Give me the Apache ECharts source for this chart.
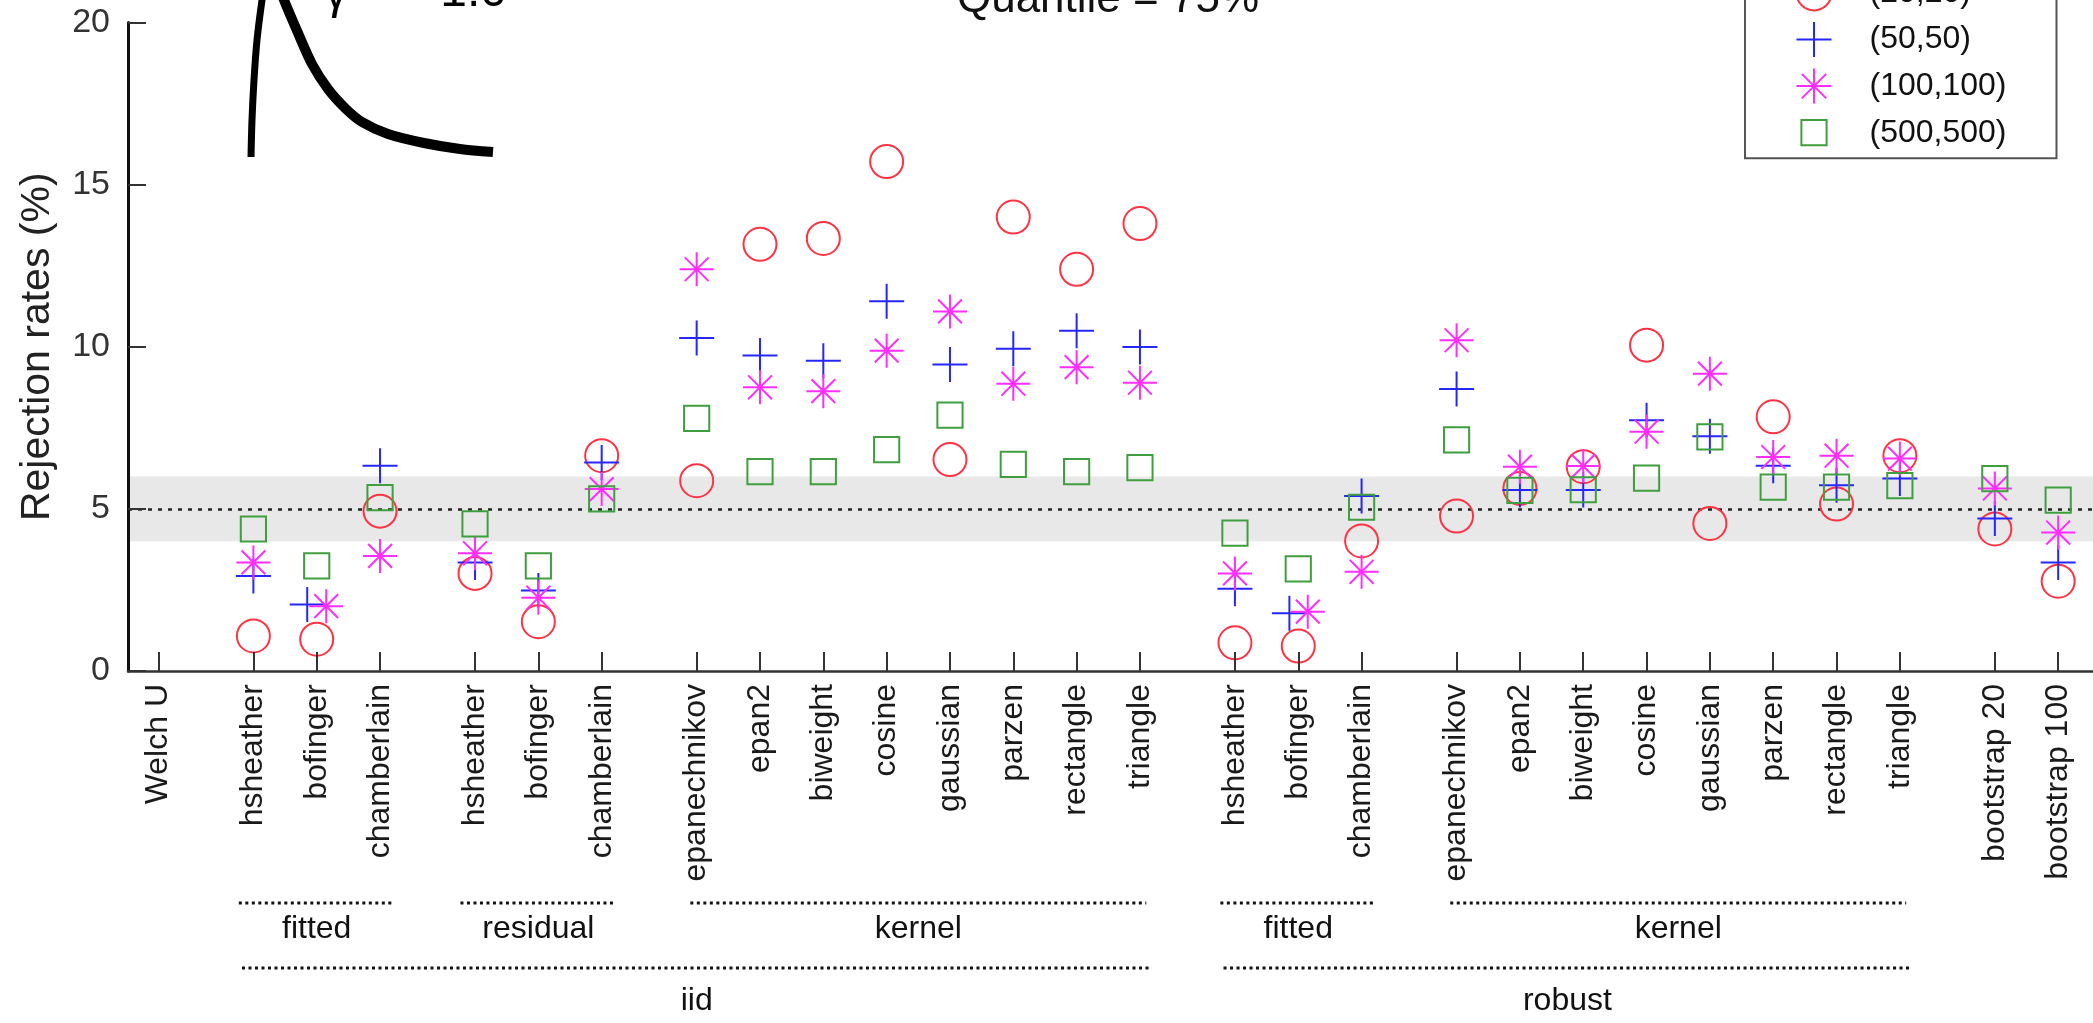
<!DOCTYPE html>
<html><head><meta charset="utf-8">
<script src="https://cdn.jsdelivr.net/npm/echarts@6/dist/echarts.min.js"></script>
<style>html,body{margin:0;padding:0;background:#fff}#c{width:2093px;height:1023px}</style>
</head><body><div id="c"></div>
<script>
// ---------------- data ----------------
const categories = ['Welch U',
  'hsheather','bofinger','chamberlain',
  'hsheather','bofinger','chamberlain',
  'epanechnikov','epan2','biweight','cosine','gaussian','parzen','rectangle','triangle',
  'hsheather','bofinger','chamberlain',
  'epanechnikov','epan2','biweight','cosine','gaussian','parzen','rectangle','triangle',
  'bootstrap 20','bootstrap 100'];
const positions = [1, 2.5,3.5,4.5, 6,7,8, 9.5,10.5,11.5,12.5,13.5,14.5,15.5,16.5,
  18,19,20, 21.5,22.5,23.5,24.5,25.5,26.5,27.5,28.5, 30,31];
const seriesNames = ['(20,20)','(50,50)','(100,100)','(500,500)'];
const rate20  = [null,1.08,0.98,4.93, 3.01,1.52,6.64, 5.87,13.16,13.34,15.71,6.52,14.00,12.39,13.80, 0.87,0.77,4.01, 4.78,5.63,6.30,10.05,4.55,7.84,5.15,6.64, 4.38,2.77];
const rate50  = [null,2.93,2.05,6.33, 3.35,2.48,6.43, 10.27,9.73,9.57,11.40,9.45,9.94,10.49,9.99, 2.54,1.78,5.40, 8.70,5.58,5.58,7.73,7.24,6.33,5.73,5.94, 4.70,3.35];
const rate100 = [null,3.35,2.00,3.55, 3.63,2.26,5.61, 12.39,8.75,8.63,9.88,11.09,8.86,9.37,8.89, 3.01,1.83,3.06, 10.20,6.30,6.32,7.38,9.17,6.60,6.64,6.55, 5.63,4.27];
const rate500 = [null,4.38,3.24,5.35, 4.54,3.24,5.31, 7.79,6.15,6.15,6.83,7.89,6.37,6.15,6.27, 4.25,3.15,5.05, 7.13,5.57,5.59,5.95,7.22,5.67,5.67,5.72, 5.93,5.27];
// small horizontal dodge used in the original for overlapping marks (category index -> shift)
const dodge50  = {2:-0.15, 16:-0.14};
const dodge100 = {2: 0.15, 16: 0.15};
const yTicks = [0,5,10,15,20];
const nominalLevel = 5;
const toleranceBand = [4,6];
const groupsLevel1 = [
  {label:'fitted', from:1, to:3}, {label:'residual', from:4, to:6}, {label:'kernel', from:7, to:14},
  {label:'fitted', from:15, to:17}, {label:'kernel', from:18, to:25}];
const groupsLevel2 = [{label:'iid', from:1, to:14}, {label:'robust', from:15, to:25}];
const titleText = 'Quantile = 75%';
const insetSymbol = 'γ';
const insetValue = '= 1.0';
const yName = 'Rejection rates (%)';

// ---------------- styling ----------------
const FONT = "'Liberation Sans', Arial, Helvetica, sans-serif";
const COLORS = ['#ff3344', '#2626ff', '#ff2eff', '#3f9f3f'];
const PLUS = 'path://M0,-1L0,1M-1,0L1,0';
const STAR = 'path://M0,-1L0,1M-1,0L1,0M-0.7,-0.7L0.7,0.7M-0.7,0.7L0.7,-0.7';
const SQUARE = 'path://M-0.36,-0.36L0.36,-0.36L0.36,0.36L-0.36,0.36Z M-0.5,-0.5 M0.5,0.5';
const SYMBOLS = ['circle', PLUS, STAR, SQUARE];
const SIZES = [33, 35, 34, 35];

function build(values, dodge) {
  const out = [];
  values.forEach((v, i) => {
    if (v === null) return;
    out.push([positions[i] + ((dodge && dodge[i]) || 0), v]);
  });
  return out;
}
const allValues = [rate20, rate50, rate100, rate500];
const dodges = [null, dodge50, dodge100, null];

const chart = echarts.init(document.getElementById('c'), null, {renderer:'canvas'});

const series = seriesNames.map((name, k) => ({
  name, type:'scatter', silent:true, z: 2,
  symbol: SYMBOLS[k], symbolSize: SIZES[k],
  itemStyle:{color:'transparent', borderColor: COLORS[k], borderWidth: 2, opacity: 1},
  emphasis:{disabled:true},
  data: build(allValues[k], dodges[k])
}));
series[0].markArea = {silent:true, z:1, itemStyle:{color:'#e8e8e8'},
  data:[[{yAxis: toleranceBand[0]}, {yAxis: toleranceBand[1]}]]};
series[0].markLine = {silent:true, z:1, symbol:['none','none'], label:{show:false},
  lineStyle:{color:'#222', width:2.5, type:[4,6]}, data:[{yAxis: nominalLevel}]};

const option = {
  animation:false,
  backgroundColor:'#fff',
  textStyle:{fontFamily: FONT},
  title:{text: titleText, left: 1108, textAlign:'center', top:-22, padding:0,
    textStyle:{fontSize:44, fontWeight:'normal', color:'#111', fontFamily: FONT}},
  legend:{
    orient:'vertical', left:1745, top:-35.6, padding:[10,50,7,50.5],
    itemWidth:101, itemHeight:35, itemGap:9.6, selectedMode:false,
    borderColor:'#555', borderWidth:2, backgroundColor:'#fff',
    textStyle:{fontSize:32, color:'#111', fontFamily: FONT},
    data: seriesNames.map((n,k)=>({name:n, icon: SYMBOLS[k],
      itemStyle:{color:'transparent', borderColor: COLORS[k], borderWidth:2}}))
  },
  grid:{left:128, right:0, top:22.5, bottom:352, containLabel:false},
  xAxis:{
    type:'value', min:0.52, max:31.55, z:3,
    splitLine:{show:false},
    axisLine:{show:true, onZero:false, lineStyle:{color:'#333', width:2.5}},
    axisTick:{show:true, inside:true, length:19, customValues: positions, lineStyle:{color:'#333', width:2}},
    axisLabel:{show:true, customValues: positions, rotate:90, margin:13, fontSize:32, color:'#1a1a1a', fontFamily: FONT,
      formatter: v => { const i = positions.findIndex(p => Math.abs(p - v) < 1e-6); return i >= 0 ? categories[i] : ''; }}
  },
  yAxis:{
    type:'value', min:0, max:20, interval:5, z:3,
    splitLine:{show:false},
    name: yName, nameLocation:'middle', nameGap:70,
    nameTextStyle:{fontSize:41, color:'#222', fontFamily: FONT},
    axisLine:{show:true, lineStyle:{color:'#111', width:3}},
    axisTick:{show:true, inside:true, length:18, lineStyle:{color:'#333', width:2}},
    axisLabel:{fontSize:34, margin:18, color:'#333', fontFamily: FONT,
      formatter: v => yTicks.includes(v) ? String(v) : ''}
  },
  series
};
chart.setOption(option);

// ---------------- annotations (group brackets, inset curve) ----------------
const px = v => chart.convertToPixel({xAxisIndex:0}, v);
const elements = [];
function addGroups(groups, lineY, textY, padFor) {
  groups.forEach(g => {
    const pad = padFor(g);
    const x1 = px(positions[g.from] - pad), x2 = px(positions[g.to] + pad);
    elements.push({type:'line', silent:true, shape:{x1, y1:lineY, x2, y2:lineY},
      style:{stroke:'#111', lineWidth:3, lineDash:[3,3.5]}});
    elements.push({type:'text', silent:true, x:(px(positions[g.from]) + px(positions[g.to]))/2, y:textY,
      style:{text:g.label, font:'32px ' + FONT, fill:'#111', align:'center', verticalAlign:'middle'}});
  });
}
addGroups(groupsLevel1, 903, 929, g => (g.to - g.from) <= 2 ? 0.23 : 0.1);
addGroups(groupsLevel2, 968, 1001, g => 0.18);

// inset distribution sketch (decorative, partly cut off at the top)
elements.push({type:'polyline', silent:true,
  shape:{points:[[251,157],[252,120],[254,80],[257,40],[262,0],[266,-25],[272,-36]], smooth:0.3},
  style:{stroke:'#000', lineWidth:7, fill:null, lineCap:'butt'}});
elements.push({type:'polyline', silent:true,
  shape:{points:[[272,-36],[278,-18],[284,0],[298,33],[312,64],[328,89],[346,109],[362,122],[388,134],[424,143],[460,149],[493,152]], smooth:0.3},
  style:{stroke:'#000', lineWidth:10, fill:null, lineCap:'butt'}});
elements.push({type:'text', silent:true, x:336, y:-5,
  style:{text: insetSymbol, font:'48px ' + FONT, fill:'#000', align:'center', verticalAlign:'middle'}});
elements.push({type:'text', silent:true, x:507, y:-7,
  style:{text: insetValue, font:'48px ' + FONT, fill:'#000', align:'right', verticalAlign:'middle'}});

chart.setOption({graphic:{elements}});
</script>
</body></html>
